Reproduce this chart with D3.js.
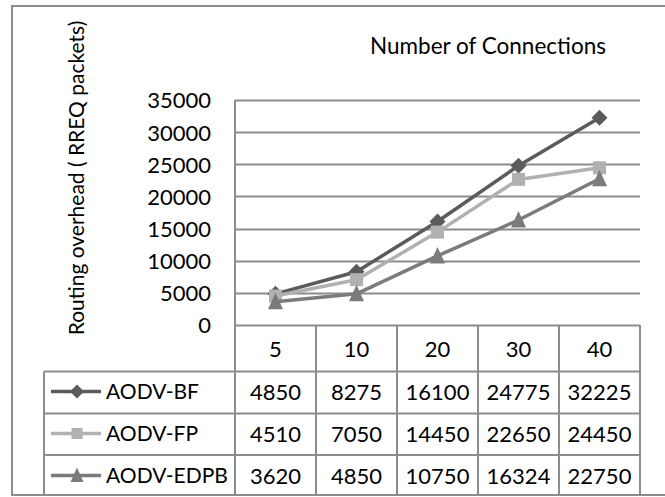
<!DOCTYPE html>
<html>
<head>
<meta charset="utf-8">
<script src="https://cdn.jsdelivr.net/npm/d3@7"></script>
<style>
  html, body { margin: 0; padding: 0; background: #fff; }
  svg text { font-family: Lato, "Noto Sans", sans-serif; fill: #000; }
</style>
</head>
<body>
<svg id="chart" width="665" height="497"></svg>
<script>
const categories = ["5", "10", "20", "30", "40"];
const seriesNames = ["AODV-BF", "AODV-FP", "AODV-EDPB"];
const bfValues = [4850, 8275, 16100, 24775, 32225];
const fpValues = [4510, 7050, 14450, 22650, 24450];
const edpbValues = [3620, 4850, 10750, 16324, 22750];
const yTicks = [0, 5000, 10000, 15000, 20000, 25000, 30000, 35000];
const chartTitle = "Number of Connections";
const yLabel = "Routing overhead ( RREQ packets)";

const series = [
  { name: seriesNames[0], values: bfValues, color: "#5b5b5b", marker: "diamond" },
  { name: seriesNames[1], values: fpValues, color: "#b1b1b1", marker: "square" },
  { name: seriesNames[2], values: edpbValues, color: "#7b7b7b", marker: "triangle" }
];

const svg = d3.select("#chart");
const gridColor = "#8c8c8c";
const plotLeft = 235, plotRight = 640, plotTop = 100, plotBottom = 325;
const rowH = 42;
const tableLeft = 44;
const headerBottom = 371.5;
const numSize = 22, nameSize = 21, titleSize = 22.5;

const x = d3.scaleBand().domain(categories).range([plotLeft, plotRight]).padding(0);
const y = d3.scaleLinear().domain([0, 35000]).range([plotBottom, plotTop]);

// outer border
svg.append("path")
  .attr("d", `M665,6 H12 V495 H665`)
  .attr("fill", "none").attr("stroke", gridColor).attr("stroke-width", 2);

// title
svg.append("text").attr("x", 488).attr("y", 54).attr("text-anchor", "middle")
  .attr("font-size", titleSize).text(chartTitle);

// y label
svg.append("text").attr("transform", `translate(84,178) rotate(-90)`)
  .attr("text-anchor", "middle").attr("font-size", nameSize).text(yLabel);

// gridlines
svg.append("g").selectAll("line").data(yTicks).join("line")
  .attr("x1", plotLeft).attr("x2", plotRight)
  .attr("y1", d => Math.round(y(d)) + 0.5).attr("y2", d => Math.round(y(d)) + 0.5)
  .attr("stroke", gridColor).attr("stroke-width", 2);

// y axis via d3 axis (labels only)
const yAxis = svg.append("g").attr("transform", `translate(${plotLeft - 24},0)`)
  .call(d3.axisLeft(y).tickValues(yTicks).tickSize(0).tickPadding(0).tickFormat(d3.format("d")));
yAxis.select(".domain").remove();
yAxis.selectAll("text").attr("font-size", numSize).attr("font-family", "Lato, 'Noto Sans', sans-serif")
  .attr("fill", "#000").attr("dy", "0.36em");

// left axis line
svg.append("line").attr("x1", plotLeft).attr("x2", plotLeft).attr("y1", plotTop).attr("y2", 495)
  .attr("stroke", gridColor).attr("stroke-width", 2);

// table lines
const rowLines = [headerBottom, headerBottom + rowH, headerBottom + 2 * rowH - 0.5];
svg.append("g").selectAll("line").data(rowLines).join("line")
  .attr("x1", tableLeft).attr("x2", plotRight)
  .attr("y1", d => d).attr("y2", d => d)
  .attr("stroke", gridColor).attr("stroke-width", 2);
svg.append("line").attr("x1", tableLeft).attr("x2", tableLeft).attr("y1", headerBottom).attr("y2", 495)
  .attr("stroke", gridColor).attr("stroke-width", 2);
svg.append("g").selectAll("line").data(categories).join("line")
  .attr("x1", d => x(d) + x.bandwidth()).attr("x2", d => x(d) + x.bandwidth())
  .attr("y1", plotBottom).attr("y2", 495)
  .attr("stroke", gridColor).attr("stroke-width", 2);

// header labels
svg.append("g").selectAll("text").data(categories).join("text")
  .attr("x", d => x(d) + x.bandwidth() / 2).attr("y", 357)
  .attr("text-anchor", "middle").attr("font-size", numSize).text(d => d);

function drawMarker(g, type, cx, cy, color, size) {
  if (type === "diamond") {
    const h = size / 2 + 1.5;
    g.append("path").attr("d", `M${cx},${cy - h}L${cx + h},${cy}L${cx},${cy + h}L${cx - h},${cy}Z`).attr("fill", color);
  } else if (type === "square") {
    const h = size / 2;
    g.append("rect").attr("x", cx - h).attr("y", cy - h).attr("width", size).attr("height", size).attr("fill", color);
  } else {
    const h = size / 2 + 1;
    g.append("path").attr("d", `M${cx},${cy - h - 1.5}L${cx + h},${cy + h}L${cx - h},${cy + h}Z`).attr("fill", color);
  }
}

// lines and markers
const line = d3.line().x((d, i) => x(categories[i]) + x.bandwidth() / 2).y(d => y(d));
series.forEach(s => {
  const g = svg.append("g");
  g.append("path").datum(s.values).attr("d", line).attr("fill", "none")
    .attr("stroke", s.color).attr("stroke-width", 3.5).attr("stroke-linejoin", "round");
  s.values.forEach((v, i) => drawMarker(g, s.marker, x(categories[i]) + x.bandwidth() / 2, y(v), s.color, 13));
});

// table rows
series.forEach((s, r) => {
  const top = headerBottom + r * rowH;
  const cy = top + 21;
  const g = svg.append("g");
  g.append("line").attr("x1", 51).attr("x2", 101).attr("y1", cy - 1).attr("y2", cy - 1)
    .attr("stroke", s.color).attr("stroke-width", 3.5);
  drawMarker(g, s.marker, 77, cy - 1, s.color, 11);
  g.append("text").attr("x", 106).attr("y", cy + 6).attr("font-size", nameSize).text(s.name);
  g.selectAll("text.v").data(s.values).join("text").attr("class", "v")
    .attr("x", (d, i) => x(categories[i]) + x.bandwidth() / 2).attr("y", cy + 7.5)
    .attr("text-anchor", "middle").attr("font-size", numSize).text(d => d);
});
</script>
</body>
</html>
